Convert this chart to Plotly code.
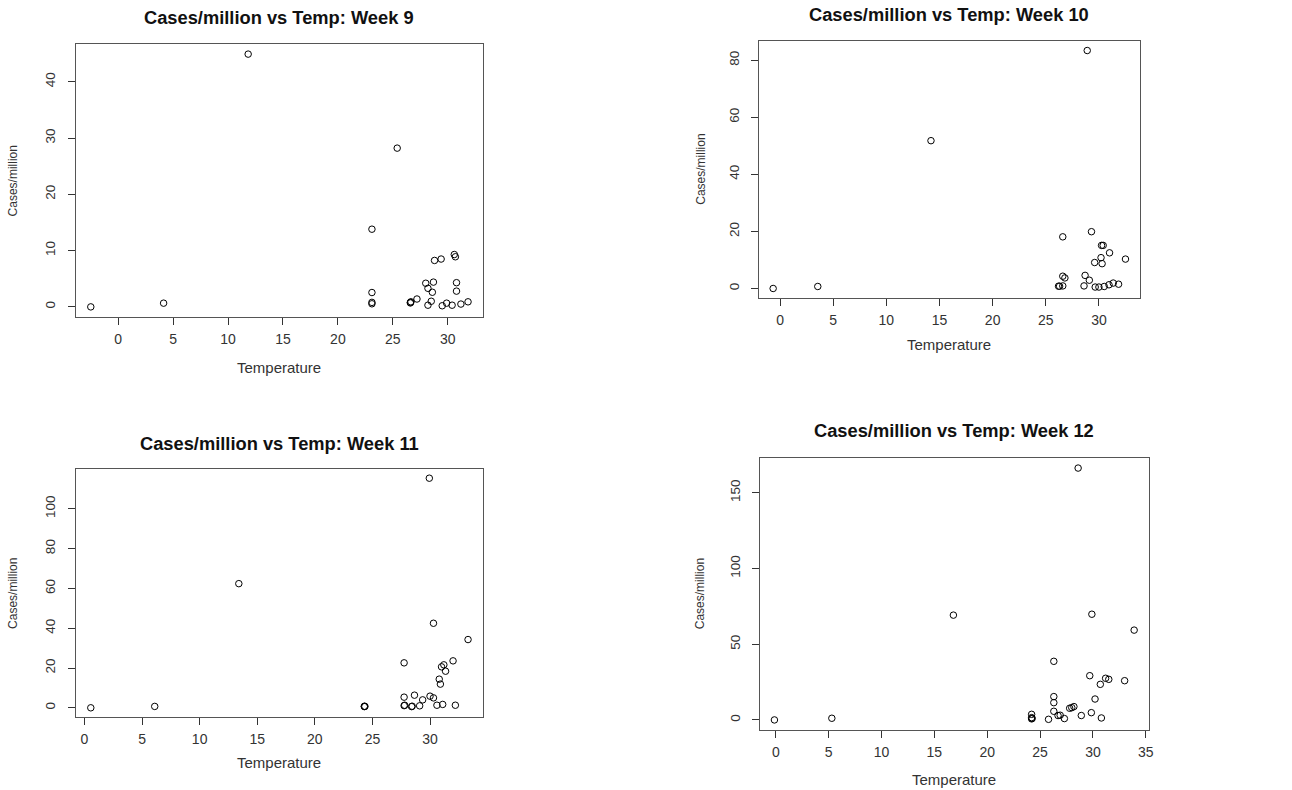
import plotly.graph_objects as go

# ---- data ----
temp_w9 = [-2.5, 4.13, 11.83, 25.4, 23.1, 23.1, 23.1, 23.1, 26.6, 26.6, 26.65, 27.2,
           28.0, 28.2, 28.7, 28.6, 28.5, 28.2, 28.8, 29.4, 30.6, 30.7, 30.8, 30.8,
           29.5, 29.9, 30.4, 31.2, 31.85]
cases_w9 = [0.0, 0.66, 44.9, 28.2, 13.8, 2.55, 0.55, 0.8, 0.7, 0.8, 0.9, 1.4,
            4.2, 3.3, 4.4, 2.6, 1.0, 0.3, 8.25, 8.5, 9.3, 8.9, 4.3, 2.8,
            0.2, 0.66, 0.3, 0.5, 0.9]

temp_w10 = [-0.65, 3.55, 14.2, 28.9, 26.6, 29.3, 30.25, 30.4, 31.0, 30.2, 32.5, 29.6,
            30.3, 28.7, 29.1, 26.6, 26.8, 26.2, 26.3, 26.6, 28.6, 29.65, 30.0, 30.5,
            30.95, 31.35, 31.85]
cases_w10 = [0.0, 0.7, 51.8, 83.4, 18.1, 19.9, 15.1, 15.1, 12.5, 10.8, 10.3, 9.1,
             8.7, 4.6, 2.9, 4.3, 3.7, 0.8, 0.8, 0.9, 0.9, 0.5, 0.5, 0.7,
             1.3, 1.9, 1.5]

temp_w11 = [0.55, 6.1, 13.4, 29.94, 30.3, 33.3, 27.75, 32.0, 31.2, 31.0, 31.35, 30.8,
            30.9, 27.75, 28.65, 29.36, 30.0, 30.3, 24.3, 24.3, 24.35, 27.75, 27.8,
            28.4, 28.45, 29.1, 30.6, 31.1, 32.2]
cases_w11 = [0.0, 0.7, 62.4, 115.4, 42.5, 34.3, 22.6, 23.6, 21.6, 20.6, 18.4, 14.4,
             11.9, 5.35, 6.35, 4.0, 5.85, 5.0, 0.6, 0.8, 0.7, 1.1, 1.3,
             0.6, 0.8, 1.0, 1.3, 1.7, 1.3]

temp_w12 = [-0.13, 5.3, 16.8, 28.6, 29.9, 33.9, 26.3, 29.7, 31.2, 31.5, 33.0, 30.7,
            30.2, 26.3, 26.3, 26.3, 27.8, 28.0, 28.2, 29.85, 28.9, 26.7, 26.9, 27.3,
            25.8, 30.8, 24.2, 24.2, 24.2, 24.25]
cases_w12 = [0.0, 1.1, 69.2, 166.3, 69.8, 59.3, 38.7, 29.2, 27.5, 26.8, 25.9, 23.5,
             13.8, 15.4, 11.4, 5.7, 7.7, 8.1, 8.8, 4.8, 2.9, 2.9, 3.1, 0.9,
             0.4, 1.3, 3.7, 1.5, 0.7, 1.0]

weeks = ["9", "10", "11", "12"]
x_ticks = [[0, 5, 10, 15, 20, 25, 30], [0, 5, 10, 15, 20, 25, 30],
           [0, 5, 10, 15, 20, 25, 30], [0, 5, 10, 15, 20, 25, 30, 35]]
y_ticks = [[0, 10, 20, 30, 40], [0, 20, 40, 60, 80],
           [0, 20, 40, 60, 80, 100], [0, 50, 100, 150]]

series = [(temp_w9, cases_w9), (temp_w10, cases_w10),
          (temp_w11, cases_w11), (temp_w12, cases_w12)]

W, H = 1292, 790
# plot boxes in pixels: (left, right, top, bottom)
boxes = [(76, 485, 44, 317), (762, 1144, 41, 298),
         (76, 485, 469, 717), (763, 1153, 458, 730)]
# title y, x-title y, y-title x (pixels)
title_y = [17, 15, 443, 430]
xtitle_y = [367, 344, 762, 779]
ytitle_x = [13, 703, 13, 703]

FONT = "Liberation Sans, Arial, sans-serif"

fig = go.Figure()
annotations = []


def rng(v):
    lo, hi = min(v), max(v)
    s = hi - lo
    return [lo - 0.04 * s, hi + 0.04 * s]


for i, (xs, ys) in enumerate(series):
    n = "" if i == 0 else str(i + 1)
    fig.add_trace(go.Scatter(
        x=xs, y=ys, mode="markers", xaxis="x" + n, yaxis="y" + n,
        marker=dict(symbol="circle-open", size=6.5, color="black",
                    line=dict(width=1, color="black")),
        showlegend=False, hoverinfo="x+y"))
    l, r, t, b = boxes[i]
    xd = [l / W, r / W]
    yd = [1 - b / H, 1 - t / H]
    common = dict(showgrid=False, zeroline=False, showline=True, mirror=True,
                  linecolor="#555555", linewidth=1, ticks="outside", ticklen=7,
                  tickcolor="#333333")
    fig.update_layout(**{
        "xaxis" + n: dict(domain=xd, range=rng(xs), tickvals=x_ticks[i],
                          anchor="y" + n,
                          tickfont=dict(family=FONT, size=14, color="#333333"),
                          ticklabelstandoff=2, **common),
        "yaxis" + n: dict(domain=yd, range=rng(ys), tickvals=y_ticks[i],
                          anchor="x" + n, tickangle=-90, ticklabelstandoff=7,
                          tickfont=dict(family=FONT, size=13.5, color="#333333"),
                          **common),
    })
    cx = (l + r) / 2
    cy = (t + b) / 2
    annotations.append(dict(text="<b>Cases/million vs Temp: Week %s</b>" % weeks[i],
                            x=cx / W, y=1 - title_y[i] / H, xref="paper", yref="paper",
                            showarrow=False, xanchor="center", yanchor="middle",
                            font=dict(family=FONT, size=18.3, color="#111111")))
    annotations.append(dict(text="Temperature", x=cx / W, y=1 - xtitle_y[i] / H,
                            xref="paper", yref="paper", showarrow=False,
                            xanchor="center", yanchor="middle",
                            font=dict(family=FONT, size=15, color="#333333")))
    annotations.append(dict(text="Cases/million", x=ytitle_x[i] / W, y=1 - cy / H,
                            xref="paper", yref="paper", showarrow=False, textangle=-90,
                            xanchor="center", yanchor="middle",
                            font=dict(family=FONT, size=12, color="#333333")))

fig.update_layout(width=W, height=H, margin=dict(l=0, r=0, t=0, b=0),
                  paper_bgcolor="white", plot_bgcolor="white",
                  annotations=annotations)

fig.write_html("out.html")
